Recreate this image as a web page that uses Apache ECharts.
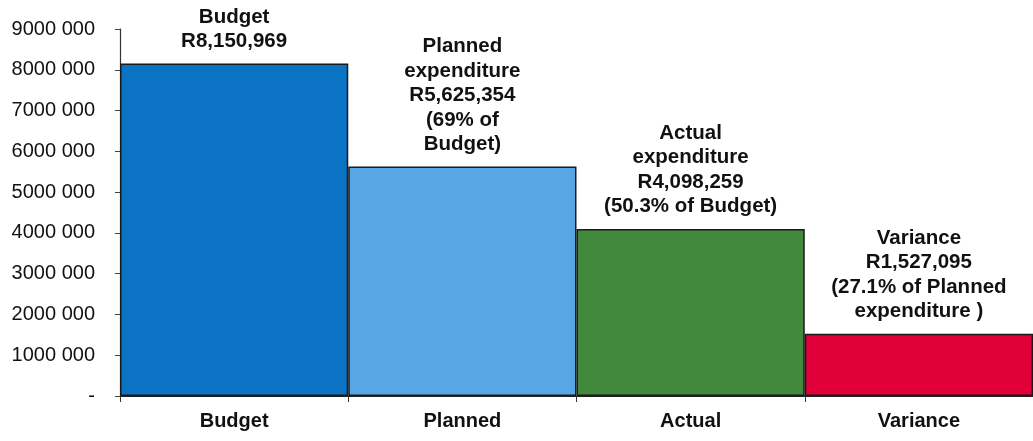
<!DOCTYPE html>
<html>
<head>
<meta charset="utf-8">
<script src="https://cdn.jsdelivr.net/npm/echarts@6/dist/echarts.min.js"></script>
<style>
  html, body { margin: 0; padding: 0; background: #fff; }
  #chart { width: 1033px; height: 441px; }
</style>
</head>
<body>
<div id="chart"></div>
<script>
// Budget overview: budget, planned and actual expenditure, and variance
const categories = ['Budget', 'Planned', 'Actual', 'Variance'];
const amounts = [8150969, 5625354, 4098259, 1527095];
const barLabels = [
  'Budget\nR8,150,969',
  'Planned\nexpenditure\nR5,625,354\n(69% of\nBudget)',
  'Actual\nexpenditure\nR4,098,259\n(50.3% of Budget)',
  'Variance\nR1,527,095\n(27.1% of Planned\nexpenditure )'
];
const barColors = ['#0b73c4', '#58a6e4', '#43893d', '#e2003a'];
const yTickLabels = ['-', '1000 000', '2000 000', '3000 000', '4000 000',
  '5000 000', '6000 000', '7000 000', '8000 000', '9000 000'];

const chart = echarts.init(document.getElementById('chart'));
chart.setOption({
  animation: false,
  backgroundColor: '#ffffff',
  // plot area runs slightly past the right edge of the canvas
  grid: { left: 120, width: 920, top: 29, bottom: 45 },
  xAxis: {
    type: 'category',
    data: categories,
    axisLine: { lineStyle: { color: '#222', width: 1.2 } },
    axisTick: { show: true, length: 6, lineStyle: { color: '#333' } },
    axisLabel: {
      color: '#111', fontFamily: 'Liberation Sans, Arial, sans-serif',
      fontWeight: 'bold', fontSize: 20, margin: 15
    }
  },
  yAxis: {
    type: 'value',
    min: 0, max: 9000000, interval: 1000000,
    splitLine: { show: false },
    axisLine: { show: true, lineStyle: { color: '#333', width: 1.2 } },
    axisTick: { show: true, length: 5, lineStyle: { color: '#444' } },
    axisLabel: {
      color: '#111', fontFamily: 'Liberation Sans, Arial, sans-serif',
      fontSize: 20, margin: 25,
      formatter: (v) => yTickLabels[Math.round(v / 1000000)]
    }
  },
  series: [{
    type: 'bar',
    barCategoryGap: '0%',
    data: amounts.map((v, i) => ({
      value: v,
      itemStyle: { color: barColors[i] },
      label: { formatter: barLabels[i] }
    })),
    itemStyle: { borderColor: '#1a1a1a', borderWidth: 1.5 },
    label: {
      show: true, position: 'top', distance: 10,
      color: '#111', fontFamily: 'Liberation Sans, Arial, sans-serif',
      fontWeight: 'bold', fontSize: 20.5, lineHeight: 24.5, align: 'center'
    }
  }]
});
</script>
</body>
</html>
